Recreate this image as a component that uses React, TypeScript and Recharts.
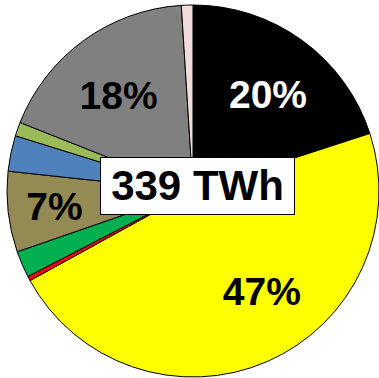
import { Cell, Pie, PieChart } from 'recharts';

// Electricity generation mix, share of total (%)
const sources = ['Coal', 'Nuclear', 'Oil', 'Wind', 'Biomass', 'Hydro', 'Solar', 'Gas', 'Other'];
const shares = [20, 47, 0.4, 2.3, 7, 3.1, 1.2, 18, 1];
const colors = ['#000000', '#ffff00', '#ff0000', '#00b050', '#948a54', '#4f81bd', '#9bbb59', '#808080', '#f2dcdb'];
const totalLabel = '339 TWh';

const labelled = ['Coal', 'Nuclear', 'Biomass', 'Gas'];
const labelColor: Record<string, string> = { Coal: '#ffffff' };
// tweak where a label sits inside its slice: [radius fraction, angle shift in degrees]
const labelPlace: Record<string, [number, number]> = {
  Coal: [0.655, -2],
  Nuclear: [0.655, 11],
  Biomass: [0.75, 0],
  Gas: [0.65, 2],
};

const data = sources.map((name, i) => ({ name, value: shares[i] }));
const total = shares.reduce((a, b) => a + b, 0);

const RADIAN = Math.PI / 180;

function renderLabel(props: any) {
  const { cx, cy, midAngle, outerRadius, name, value } = props;
  if (!labelled.includes(name)) return null;
  const [f, shift] = labelPlace[name];
  const a = (midAngle + shift) * RADIAN;
  const r = outerRadius * f;
  const x = cx + r * Math.cos(a);
  const y = cy - r * Math.sin(a);
  return (
    <text
      x={x}
      y={y}
      fill={labelColor[name] ?? '#000000'}
      textAnchor="middle"
      dominantBaseline="central"
      fontFamily="'Liberation Sans', Arial, sans-serif"
      fontWeight="bold"
      fontSize={39}
    >
      {`${Math.round((value / total) * 100)}%`}
    </text>
  );
}

export default function App() {
  return (
    <div style={{ position: 'fixed', left: 0, top: 0, width: 379, height: 378, background: '#ffffff' }}>
      <PieChart width={379} height={378} margin={{ top: 0, right: 0, bottom: 0, left: 0 }}>
        <Pie
          data={data}
          dataKey="value"
          nameKey="name"
          cx={193}
          cy={191}
          outerRadius={186}
          startAngle={90}
          endAngle={-270}
          stroke="#000000"
          strokeWidth={1}
          label={renderLabel}
          labelLine={false}
          isAnimationActive={false}
        >
          {data.map((d, i) => (
            <Cell key={d.name} fill={colors[i]} />
          ))}
        </Pie>
      </PieChart>
      <div
        style={{
          position: 'absolute',
          left: 100,
          top: 157,
          width: 195,
          height: 58,
          boxSizing: 'border-box',
          border: '1px solid #000000',
          background: '#ffffff',
          display: 'flex',
          alignItems: 'center',
          justifyContent: 'center',
          fontFamily: "'Liberation Sans', Arial, sans-serif",
          fontWeight: 'bold',
          fontSize: 42,
          color: '#000000',
        }}
      >
        {totalLabel}
      </div>
    </div>
  );
}
